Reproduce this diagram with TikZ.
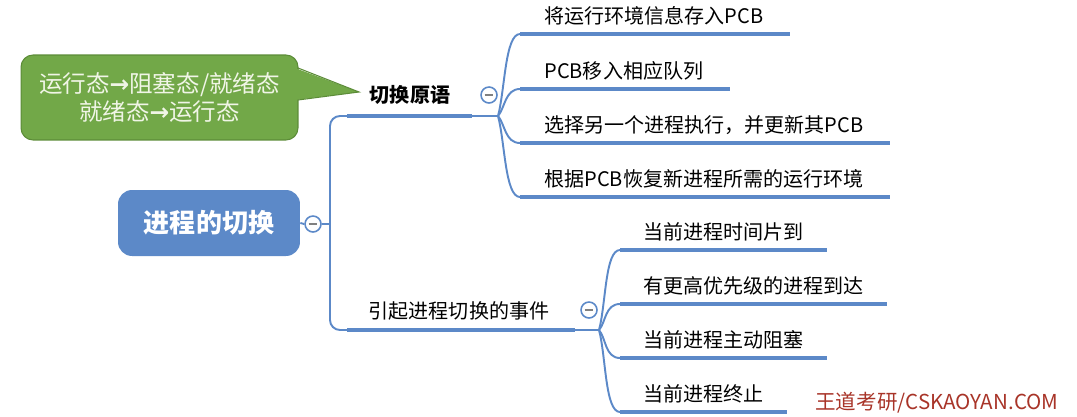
\documentclass[tikz,border=0pt]{standalone}
\usepackage{fontspec}
\setmainfont{Noto Sans CJK SC}
\newfontfamily\arrowfont{DejaVu Sans}
\usepackage{xcolor}
\definecolor{mapblue}{RGB}{92,137,200}
\definecolor{notegreen}{RGB}{114,168,72}
\definecolor{notegreendark}{RGB}{92,140,56}
\definecolor{notetext}{RGB}{240,245,230}
\definecolor{markred}{RGB}{168,52,40}
\usetikzlibrary{positioning,calc}
\newcommand{\statearrow}{{\arrowfont\bfseries →}}

\begin{document}
\begin{tikzpicture}[x=0.02cm,y=-0.02cm]
  \tikzstyle{root}=[rectangle,rounded corners=0.28cm,fill=mapblue,text=white,minimum width=3.64cm,minimum height=1.32cm,font=\fontsize{14.8}{18}\selectfont\bfseries]
  \tikzstyle{topic}=[inner sep=0pt,font=\fontsize{11.4}{14}\selectfont]
  \tikzstyle{leaf}=[topic,anchor=west]
  \tikzstyle{note}=[rectangle,rounded corners=0.24cm,fill=notegreen,draw=notegreendark,line width=0.6pt,minimum width=5.54cm,minimum height=1.7cm,align=center,text=notetext,font=\fontsize{13.4}{15.4}\selectfont]
  \tikzstyle{fold}=[circle,draw=mapblue,line width=0.9pt,fill=white,minimum size=0.32cm,inner sep=0pt]
  \tikzstyle{uline}=[mapblue,line width=2.7pt]
  \tikzstyle{branch}=[mapblue,line width=1.1pt]
  \useasboundingbox (0,0) rectangle (1077,416);

  % callout
  \node[note] (hint) at (159.5,97.5) {运行态\statearrow 阻塞态/就绪态\\就绪态\statearrow 运行态};
  \coordinate (tip) at (359,92);
  \fill[notegreen] (295,68) -- (tip) -- (295,100) -- cycle;
  \draw[notegreendark,line width=0.6pt] (298,68) -- (tip) -- (298,100);

  % root
  \node[root] (root) at (209,223) {进程的切换};
  \node[fold] (f0) at (313,224) {\color{gray}\rule{5pt}{1pt}};
  \draw[branch] (root.east) -- (f0.west);
  \coordinate (trunk) at (330,224);
  \coordinate (c1s) at (347,116);
  \coordinate (c2s) at (347,330);
  \draw[branch] (f0.east) -- (trunk);
  \draw[branch,rounded corners=0.2cm] (trunk) |- (c1s);
  \draw[branch,rounded corners=0.2cm] (trunk) |- (c2s);

  % first topic
  \node[topic] (c1) at (410,95) {\bfseries 切换原语};
  \coordinate (c1e) at (472,116);
  \coordinate (k1) at (498,116);
  \draw[uline] (c1s) -- (c1e);
  \draw[branch] (c1e) -- (k1);
  \node[fold] (f1) at (489,95) {\color{gray}\rule{5pt}{1pt}};
  \coordinate (a1) at (520,34);
  \coordinate (a2) at (520,89);
  \coordinate (a3) at (520,143);
  \coordinate (a4) at (520,197);
  \draw[branch] (k1) .. controls +(7,-26) and +(-15,0) .. (a1);
  \draw[branch] (k1) .. controls +(7,-8) and +(-15,0) .. (a2);
  \draw[branch] (k1) .. controls +(7,8) and +(-15,0) .. (a3);
  \draw[branch] (k1) .. controls +(7,26) and +(-15,0) .. (a4);
  \draw[uline] (a1) -- ++(270,0);
  \draw[uline] (a2) -- ++(210,0);
  \draw[uline] (a3) -- ++(370,0);
  \draw[uline] (a4) -- ++(370,0);
  \node[leaf] (l1) at (544,16) {将运行环境信息存入PCB};
  \node[leaf] (l2) at (544,71) {PCB移入相应队列};
  \node[leaf] (l3) at (544,125) {选择另一个进程执行，并更新其PCB};
  \node[leaf] (l4) at (544,179) {根据PCB恢复新进程所需的运行环境};

  % second topic
  \node[topic] (c2) at (459,311) {引起进程切换的事件};
  \coordinate (c2e) at (575,330);
  \coordinate (k2) at (599,330);
  \draw[uline] (c2s) -- (c2e);
  \draw[branch] (c2e) -- (k2);
  \node[fold] (f2) at (589,310) {\color{gray}\rule{5pt}{1pt}};
  \coordinate (b1) at (620,250);
  \coordinate (b2) at (620,304);
  \coordinate (b3) at (620,358);
  \coordinate (b4) at (620,412);
  \draw[branch] (k2) .. controls +(7,-26) and +(-15,0) .. (b1);
  \draw[branch] (k2) .. controls +(7,-8) and +(-15,0) .. (b2);
  \draw[branch] (k2) .. controls +(7,8) and +(-15,0) .. (b3);
  \draw[branch] (k2) .. controls +(7,26) and +(-15,0) .. (b4);
  \draw[uline] (b1) -- ++(207,0);
  \draw[uline] (b2) -- ++(267,0);
  \draw[uline] (b3) -- ++(207,0);
  \draw[uline] (b4) -- ++(167,0);
  \node[leaf] (m1) at (643,232) {当前进程时间片到};
  \node[leaf] (m2) at (643,286) {有更高优先级的进程到达};
  \node[leaf] (m3) at (643,340) {当前进程主动阻塞};
  \node[leaf] (m4) at (643,394) {当前进程终止};

  % watermark
  \node[anchor=south west,inner sep=0pt,text=markred,font=\fontsize{11.7}{14}\selectfont] (mark) at (815,414) {王道考研/CSKAOYAN.COM};
\end{tikzpicture}
\end{document}
